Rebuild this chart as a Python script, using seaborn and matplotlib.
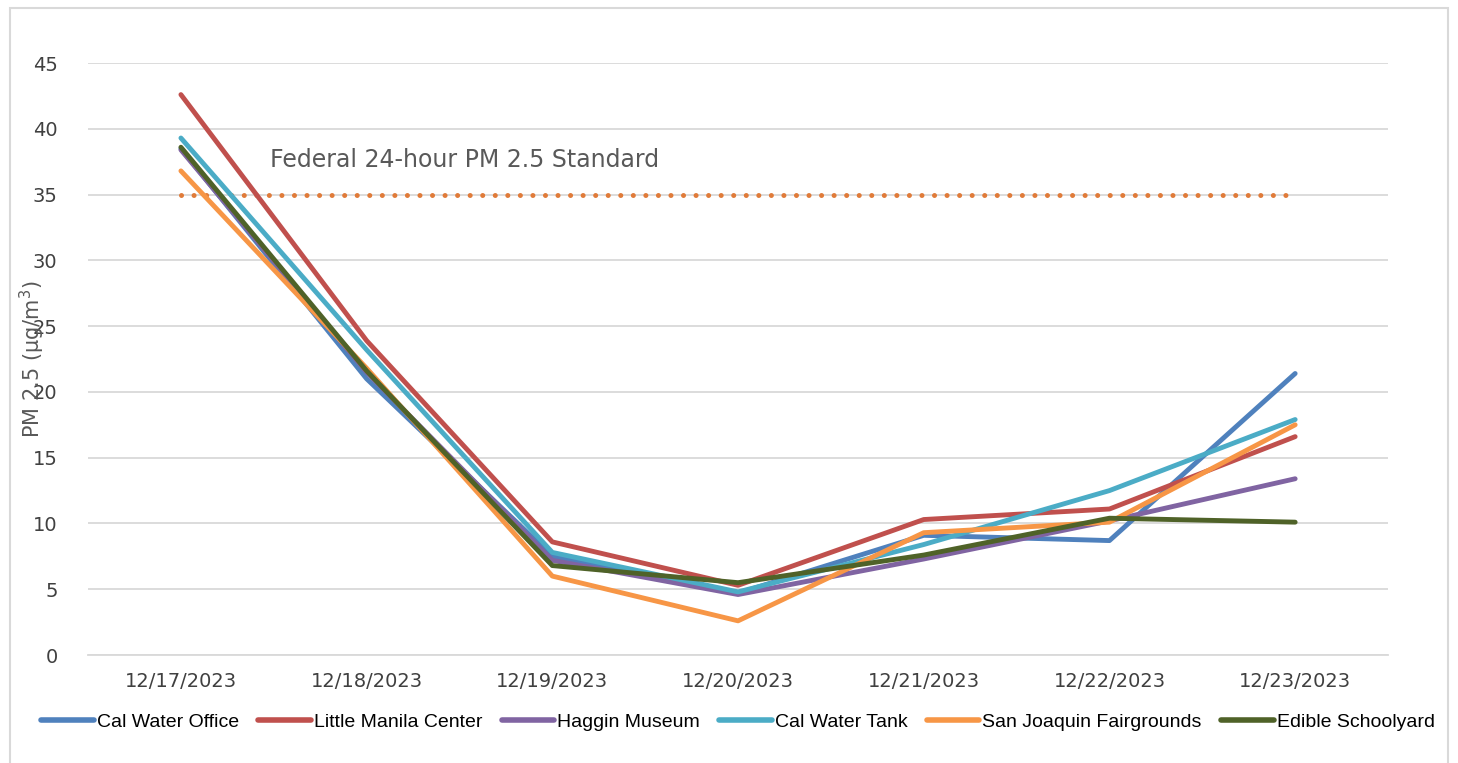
import numpy as np
import pandas as pd
import seaborn as sns
import matplotlib
matplotlib.use('Agg')
import matplotlib.pyplot as plt
from matplotlib.patches import Rectangle

dates = ["12/17/2023", "12/18/2023", "12/19/2023", "12/20/2023",
         "12/21/2023", "12/22/2023", "12/23/2023"]

cal_water_office = [38.5, 21.0, 7.5, 4.7, 9.1, 8.7, 21.4]
little_manila = [42.6, 23.9, 8.6, 5.3, 10.3, 11.1, 16.6]
haggin_museum = [38.4, 21.5, 7.2, 4.6, 7.3, 10.2, 13.4]
cal_water_tank = [39.3, 23.2, 7.8, 4.8, 8.4, 12.5, 17.9]
fairgrounds = [36.8, 21.8, 6.0, 2.6, 9.3, 10.1, 17.5]
edible_schoolyard = [38.6, 21.6, 6.8, 5.5, 7.6, 10.4, 10.1]

sites = ["Cal Water Office", "Little Manila Center", "Haggin Museum",
         "Cal Water Tank", "San Joaquin Fairgrounds", "Edible Schoolyard"]
colors = ["#4F81BD", "#C0504D", "#8064A2", "#4BACC6", "#F79646", "#4F6228"]

standard = 35
standard_label = "Federal 24-hour PM 2.5 Standard"

series = [cal_water_office, little_manila, haggin_museum,
          cal_water_tank, fairgrounds, edible_schoolyard]
rows = []
for site, vals in zip(sites, series):
    for i, v in enumerate(vals):
        rows.append({"pos": i, "date": dates[i], "site": site, "pm25": v})
df = pd.DataFrame(rows)

sns.set_style("white")
plt.rcParams['font.family'] = ['DejaVu Sans']

fig = plt.figure(figsize=(14.58, 7.63), dpi=100)
ax = fig.add_axes([0.0604, 0.1415, 0.8916, 0.7759])

# reference line
ax.plot(range(len(dates)), [standard] * len(dates), linestyle=(0, (0.01, 2.5)),
        dash_capstyle='round', color="#E07B39", lw=3.6, zorder=2)
ax.text(0.48, 37.6, standard_label, fontsize=17, color="#595959", ha="left", va="center")

sns.lineplot(data=df, x="pos", y="pm25", hue="site", hue_order=sites,
             palette=colors, linewidth=3.5, ax=ax, legend=True, zorder=3,
             solid_capstyle='round')

ax.set_xlim(-0.5, len(dates) - 0.5)
ax.set_ylim(0, 45)
ax.set_yticks(np.arange(0, 46, 5))
ax.set_xticks(range(len(dates)))
ax.set_xticklabels(dates)
ax.set_xticks(np.arange(-0.5, len(dates), 1), minor=True)
ax.tick_params(axis='x', which='major', length=0, pad=12, labelsize=14, labelcolor="#404040")
ax.tick_params(axis='x', which='minor', length=6, color="#D9D9D9", width=1.2, direction='out')
ax.tick_params(axis='y', length=0, pad=22, labelsize=14, labelcolor="#404040")
ax.yaxis.grid(True, color="#D9D9D9", linewidth=1.3)
ax.set_axisbelow(True)
for s in ["top", "right", "left"]:
    ax.spines[s].set_visible(False)
ax.spines["bottom"].set_color("#D9D9D9")
ax.spines["bottom"].set_linewidth(1.3)
ax.set_xlabel("")
ax.set_ylabel("PM 2.5 (µg/m$^3$)", fontsize=15, color="#595959", labelpad=-10)

handles, labels = ax.get_legend_handles_labels()
leg = ax.legend(handles, labels, loc="center", bbox_to_anchor=(0.5, -0.113),
                ncol=6, frameon=False, handlelength=2.7,
                handletextpad=0.15, columnspacing=1.0,
                prop={"family": ["Liberation Sans", "DejaVu Sans"], "size": 14})
for line in leg.get_lines():
    line.set_linewidth(4)
for t in leg.get_texts():
    t.set_color("#000000")

fig.patches.append(Rectangle((0.007, -0.01), 0.986, 1.0, transform=fig.transFigure,
                             fill=False, edgecolor="#D9D9D9", linewidth=1.5))

fig.savefig("out.png", dpi=100)
